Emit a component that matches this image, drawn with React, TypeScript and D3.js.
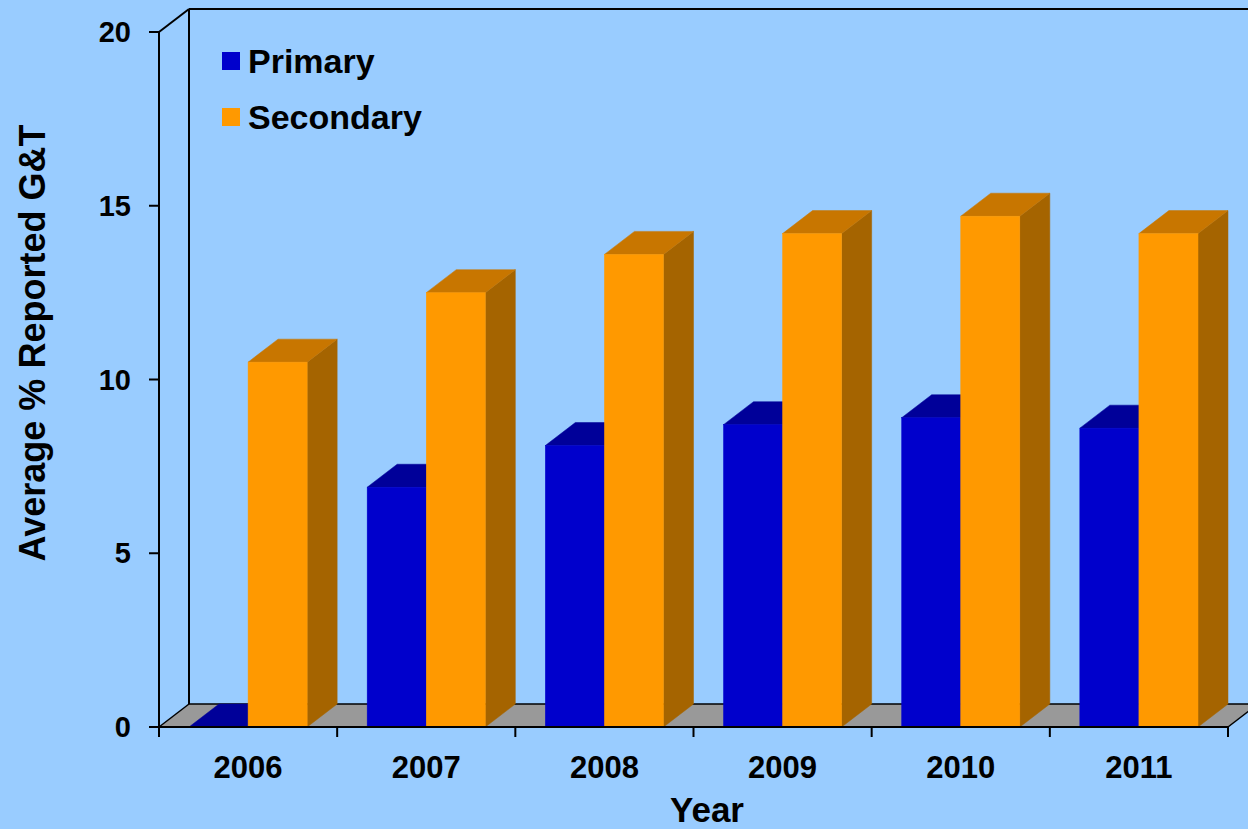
import React from "react";
import * as d3 from "d3";

const years = ["2006", "2007", "2008", "2009", "2010", "2011"];
const seriesNames = ["Primary", "Secondary"];
const primary = [0, 6.9, 8.1, 8.7, 8.9, 8.6];
const secondary = [10.5, 12.5, 13.6, 14.2, 14.7, 14.2];
const yTicks = [0, 5, 10, 15, 20];

const W = 1248;
const H = 829;
const left = 159;
const right = 1228;
const bottom = 727;
const top = 32;
const DX = 30;
const DY = 23;

const colors: Record<string, { front: string; top: string; side: string }> = {
  Primary: { front: "#0000CC", top: "#000099", side: "#000080" },
  Secondary: { front: "#FF9900", top: "#C87600", side: "#A56400" },
};

const FONT = "'Liberation Sans', Arial, Helvetica, sans-serif";

export default function App() {
  const x = d3.scaleBand<string>().domain(years).range([left, right]).padding(0);
  const bw = x.bandwidth();
  const xs = d3.scaleBand<string>().domain(seriesNames).range([DX, bw - DX]).padding(0);
  const y = d3.scaleLinear().domain([0, 20]).range([bottom, top]);
  const values: Record<string, number[]> = { Primary: primary, Secondary: secondary };

  const bars: React.ReactNode[] = [];
  years.forEach((yr, i) => {
    seriesNames.forEach((s) => {
      const v = values[s][i];
      const x0 = (x(yr) as number) + (xs(s) as number);
      const w = xs.bandwidth();
      const yt = y(v);
      const c = colors[s];
      const topPts = `${x0},${yt} ${x0 + DX},${yt - DY} ${x0 + w + DX},${yt - DY} ${x0 + w},${yt}`;
      const sidePts = `${x0 + w},${yt} ${x0 + w + DX},${yt - DY} ${x0 + w + DX},${bottom - DY} ${x0 + w},${bottom}`;
      bars.push(
        <g key={`${yr}-${s}`}>
          <polygon points={sidePts} fill={c.side} stroke={c.side} strokeWidth={0.5} />
          <polygon points={topPts} fill={c.top} stroke={c.top} strokeWidth={0.5} />
          {v > 0 && (
            <rect x={x0} y={yt} width={w} height={bottom - yt} fill={c.front} stroke={c.front} strokeWidth={0.5} />
          )}
        </g>
      );
    });
  });

  const ticks = x.domain().map((d) => x(d) as number).concat([right]);

  return (
    <svg
      width={W}
      height={H}
      style={{ position: "absolute", left: 0, top: 0, background: "#99CCFF" }}
      fontFamily={FONT}
    >
      <rect x={0} y={0} width={W} height={H} fill="#99CCFF" />
      {/* floor */}
      <polygon
        points={`${left},${bottom} ${left + DX},${bottom - DY} ${right + DX},${bottom - DY} ${right},${bottom}`}
        fill="#999999"
      />
      {/* back wall edges */}
      <line x1={left + DX} y1={top - DY} x2={left + DX} y2={bottom - DY} stroke="#000" strokeWidth={2} />
      <line x1={left + DX} y1={top - DY} x2={W + 10} y2={top - DY} stroke="#000" strokeWidth={2} />
      <line x1={left + DX} y1={bottom - DY} x2={right + DX} y2={bottom - DY} stroke="#000" strokeWidth={1.5} />
      <line x1={left} y1={top} x2={left + DX} y2={top - DY} stroke="#000" strokeWidth={2} />
      <line x1={left} y1={bottom} x2={left + DX} y2={bottom - DY} stroke="#000" strokeWidth={1.5} />
      <line x1={right} y1={bottom} x2={right + DX} y2={bottom - DY} stroke="#000" strokeWidth={1.5} />
      {bars}
      {/* front axes */}
      <line x1={left} y1={top} x2={left} y2={bottom} stroke="#000" strokeWidth={2} />
      <line x1={left} y1={bottom} x2={right} y2={bottom} stroke="#000" strokeWidth={2} />
      {yTicks.map((t) => (
        <g key={t}>
          <line x1={left - 10} y1={y(t)} x2={left} y2={y(t)} stroke="#000" strokeWidth={2} />
          <text
            x={131}
            y={y(t)}
            dy="0.35em"
            textAnchor="end"
            fontSize={29}
            fontWeight="bold"
            fill="#000"
          >
            {t}
          </text>
        </g>
      ))}
      {ticks.map((tx, i) => (
        <line key={i} x1={tx} y1={bottom} x2={tx} y2={bottom + 10} stroke="#000" strokeWidth={2} />
      ))}
      {years.map((yr) => (
        <text
          key={yr}
          x={(x(yr) as number) + bw / 2}
          y={778}
          textAnchor="middle"
          fontSize={31}
          fontWeight="bold"
          fill="#000"
        >
          {yr}
        </text>
      ))}
      <text x={707} y={822} textAnchor="middle" fontSize={35} fontWeight="bold" fill="#000">
        Year
      </text>
      <text
        transform={`translate(45,343) rotate(-90)`}
        textAnchor="middle"
        fontSize={36}
        fontWeight="bold"
        fill="#000"
      >
        Average % Reported G&amp;T
      </text>
      {/* legend */}
      {seriesNames.map((s, i) => (
        <g key={s} transform={`translate(222,${52 + i * 56})`}>
          <rect x={0} y={0} width={18} height={18} fill={colors[s].front} />
          <text x={26} y={21} fontSize={34} fontWeight="bold" fill="#000">
            {s}
          </text>
        </g>
      ))}
    </svg>
  );
}
